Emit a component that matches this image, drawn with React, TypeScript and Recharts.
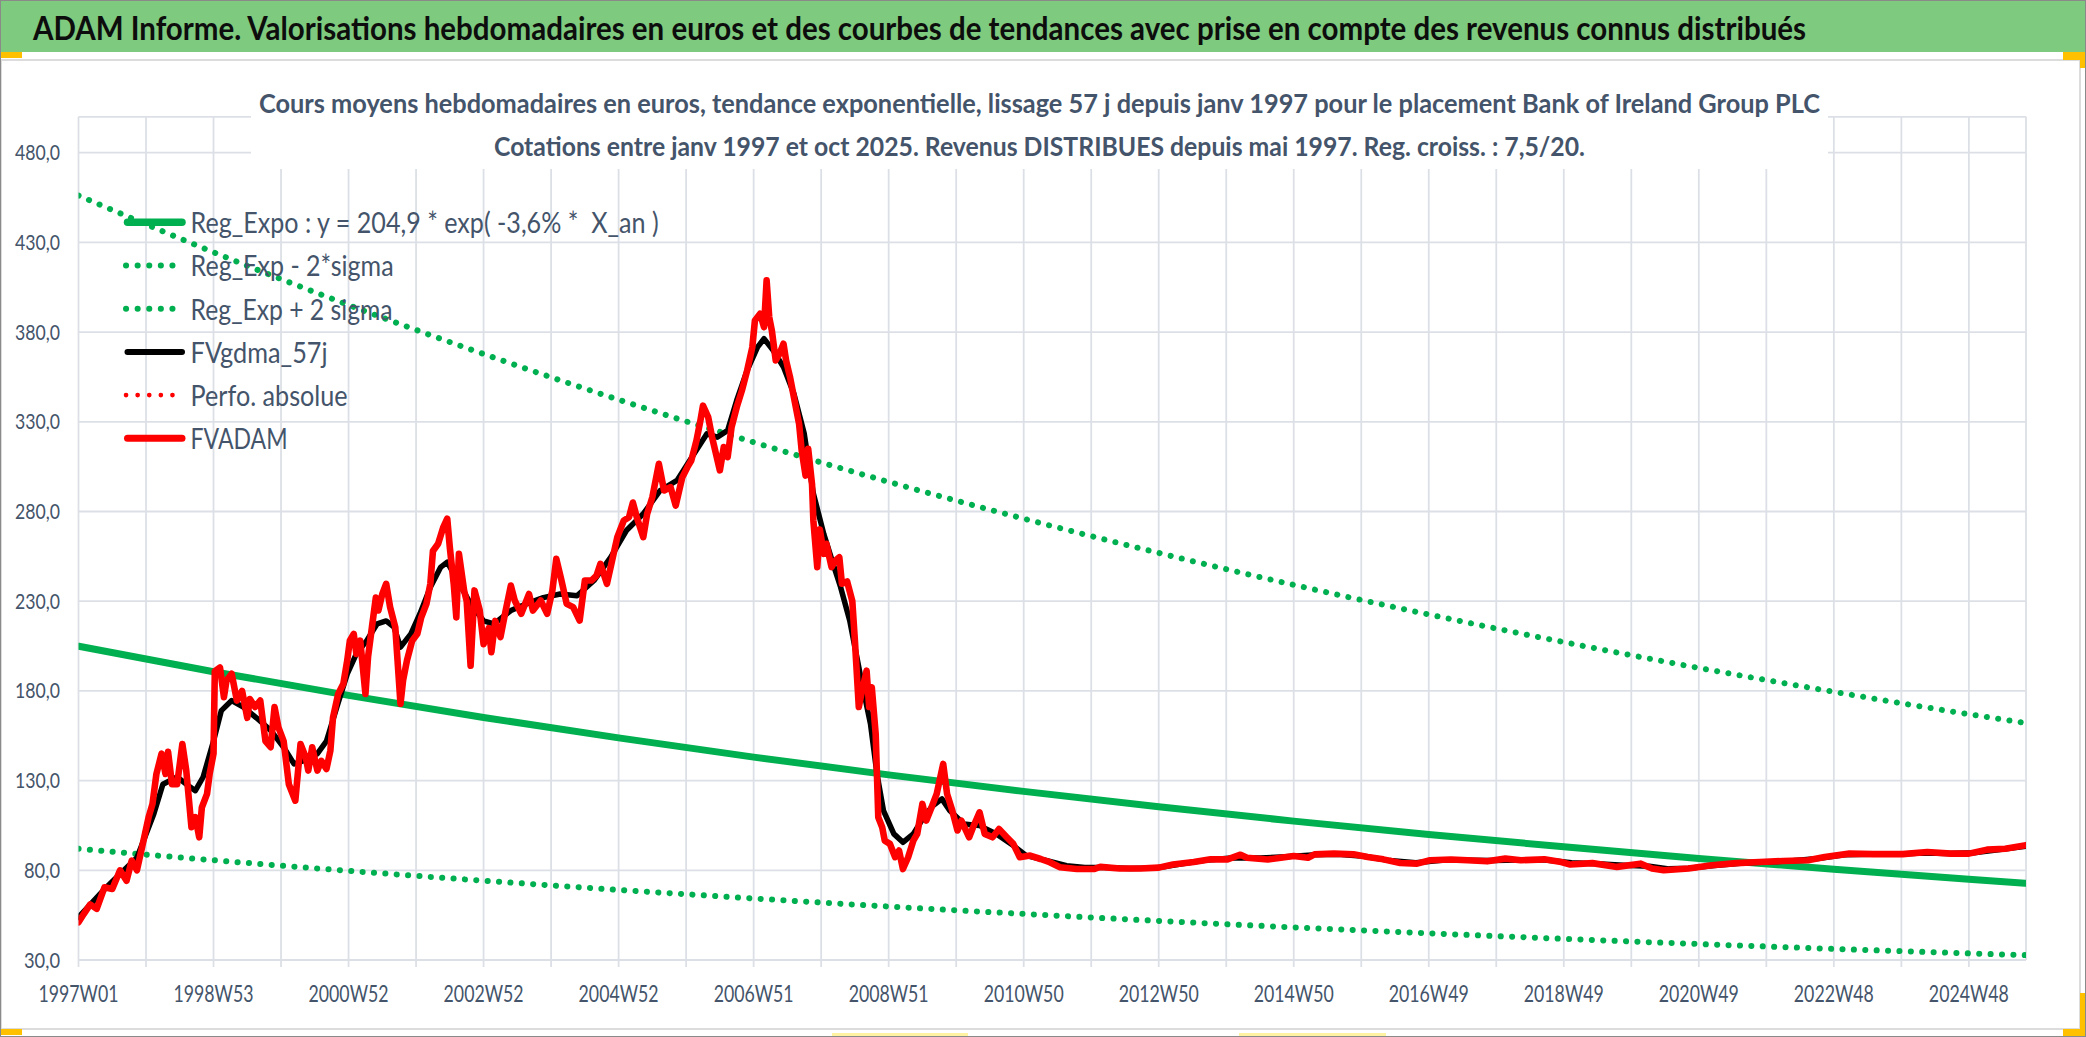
import React from 'react';
import { LineChart, Line, XAxis, YAxis, CartesianGrid } from 'recharts';

const W = 2086;
const H = 1037;
const PLOT_TOP = 116.8;
const PLOT_BOTTOM = 960;
const FONT = "Lato, 'Liberation Sans', Arial, sans-serif";
const SLATE = '#44546A';
const GRID = '#DCE0E6';
const GREEN = '#00B050';
const RED = '#FF0000';

// ---- categories / ticks ----
const X_LABELS = ['1997W01', '1998W53', '2000W52', '2002W52', '2004W52', '2006W51', '2008W51', '2010W50', '2012W50', '2014W50', '2016W49', '2018W49', '2020W49', '2022W48', '2024W48'];
const X_GRID_WEEKS = [0, 52, 104, 156, 208, 260, 312, 364, 416, 468, 520, 572, 624, 676, 728, 780, 832, 884, 936, 988, 1040, 1092, 1144, 1196, 1248, 1300, 1352, 1404, 1456];
const Y_TICKS = [30, 80, 130, 180, 230, 280, 330, 380, 430, 480];
const Y_LABELS = ['30,0', '80,0', '130,0', '180,0', '230,0', '280,0', '330,0', '380,0', '430,0', '480,0'];

// ---- regression series (read at every 104 weeks) ----
const REG_WEEKS = [0, 104, 208, 312, 416, 520, 624, 728, 832, 936, 1040, 1144, 1248, 1352, 1456, 1500];
const REG_EXPO = [204.9, 190.7, 177.5, 165.2, 153.8, 143.1, 133.2, 124.0, 115.4, 107.4, 100.0, 93.1, 86.6, 80.6, 75.0, 72.8];
const REG_LOW = [92.0, 85.6, 79.7, 74.2, 69.1, 64.3, 59.8, 55.7, 51.8, 48.2, 44.9, 41.8, 38.9, 36.2, 33.7, 32.7];
const REG_HIGH = [456.1, 424.5, 395.1, 367.8, 342.3, 318.6, 296.5, 276.0, 256.9, 239.1, 222.6, 207.2, 192.8, 179.5, 167.0, 162.1];

// ---- FVADAM weekly values [week index, value] ----
const FVADAM: [number, number][] = [[0,51],[4,55.6],[9,61],[14,58.5],[20,70.5],[26,69.6],[32,80],[37,74.2],[41,85.4],[45,80],[49,93],[54,109.6],[57,117],[60,133.7],[64,145],[67,133.7],[69,146],[72,128],[76,128],[80,150.4],[83,135.6],[87,104],[90,109.6],[93,98.4],[95,115],[99,122.6],[101,133.7],[104,145],[105,191],[109,193],[112,176.5],[114,185.8],[118,189.5],[122,174.6],[126,180],[130,165],[132,175.5],[136,171],[140,174.6],[144,152],[148,148.6],[151,171],[154,159.7],[158,152],[162,128],[167,118.8],[171,150.4],[175,143],[177,135.6],[180,148.6],[184,135.6],[187,141],[191,136.5],[194,146.7],[196,165],[200,178.3],[204,184],[207,197],[209,208],[212,211.8],[214,200.6],[217,208],[221,178.3],[223,198.8],[226,215.5],[229,232],[231,224.8],[234,234],[237,239.7],[240,226.7],[244,215.5],[248,172.8],[250,185.8],[253,197],[257,208],[261,211.8],[264,221],[268,228.5],[271,239.7],[273,258],[277,262],[281,271.3],[284,276],[286,260],[289,239.7],[291,221],[293,256.4],[297,236],[299,230],[302,194],[305,236],[309,225],[312,206],[316,215],[318,201.6],[321,219],[325,210],[329,224.8],[333,238.7],[336,230.4],[341,223],[347,234],[350,224.8],[356,230.4],[361,223],[365,236],[368,253.6],[372,241.5],[376,228.5],[381,226.7],[386,219.2],[390,241.5],[395,241.5],[399,244.3],[402,250.8],[407,239.7],[411,252.7],[415,265.7],[420,275],[424,276.8],[427,285],[430,276.8],[435,265.7],[438,278.7],[442,288],[447,306.6],[451,291.7],[456,293.6],[460,283.3],[465,299],[469,304.7],[472,308.4],[476,319.6],[479,330.7],[481,339],[485,332.6],[488,321.4],[494,302.9],[497,315.9],[500,310.3],[503,327],[507,338.2],[511,347.5],[515,358.6],[519,371.6],[521,386.5],[525,390.2],[528,382.8],[530,408.8],[532,388.4],[534,381],[537,364.2],[540,368],[543,373.5],[545,364.2],[548,355],[551,343.8],[555,328.9],[557,314],[560,300],[562,315],[565,295],[566,275],[569,249],[571,270],[574,256.4],[576,262],[580,249],[583,252.7],[586,254.5],[588,239.7],[592,241],[596,230],[598,208],[601,171],[603,178.3],[607,191.3],[609,171],[611,182],[614,156],[616,109.6],[619,104],[621,96.5],[625,94.7],[629,87.3],[632,91],[635,80.7],[639,87.3],[643,96.5],[646,100.3],[650,117],[653,107.7],[657,115],[661,122.6],[666,139.3],[669,122.6],[673,113.3],[677,102.2],[680,107.7],[686,98.4],[689,104],[694,112.3],[698,100.3],[704,98.4],[709,103],[715,98.4],[720,94.7],[725,87.3],[733,88.2],[741,86.3],[748,84.5],[756,81.7],[769,80.7],[782,80.7],[787,81.9],[802,81],[818,81],[832,81.5],[843,83.2],[859,84.6],[872,86.1],[885,86.1],[895,88.7],[900,87],[916,86],[926,87],[936,88],[947,87],[952,88.9],[967,89.3],[982,88.9],[993,87.4],[1005,86.1],[1018,84.1],[1031,83.7],[1041,85.6],[1057,86],[1070,85.6],[1085,85],[1099,86.5],[1111,85.6],[1129,86.1],[1142,84.6],[1149,83.2],[1166,84],[1185,81.9],[1203,83.7],[1212,81],[1221,80],[1240,81],[1258,82.8],[1277,84],[1295,84.6],[1313,85.2],[1332,85.6],[1345,87.4],[1364,89.3],[1382,89],[1405,89],[1424,90.2],[1442,89.3],[1456,89.3],[1470,91.5],[1484,92],[1500,94]];

// ---- FVgdma_57j smoothed values [week index, value] ----
const FVGDMA: [number, number][] = [[0,53.8],[19,68.7],[32,78],[45,87],[58,111.4],[65,128],[76,132],[83,128],[90,124.4],[96,132],[104,152],[110,169],[118,174.6],[127,171],[137,165],[148,158],[158,148.6],[166,139.3],[173,141],[184,145],[191,152],[199,171],[207,189.5],[214,200.6],[222,208],[230,217.4],[237,219],[243,215.5],[248,204.4],[256,211.8],[263,223],[271,237.8],[279,249],[284,251.7],[292,241.5],[302,228.5],[312,219],[320,217.4],[333,224.8],[345,228.5],[358,232],[371,234],[384,233],[397,241.5],[410,254.5],[422,269.4],[435,278.7],[448,291.7],[461,297.3],[474,312],[484,323.3],[492,321.4],[500,325.2],[507,342],[515,358.6],[523,371.6],[528,376.3],[535,369.8],[543,360.5],[551,345.6],[559,323.3],[566,290],[574,267.5],[582,249],[587,237.8],[594,219.2],[602,189.5],[610,161.6],[615,133.7],[620,113.3],[628,100.3],[635,95.6],[643,100.3],[651,109.6],[658,116],[665,119.8],[671,113.3],[682,105.8],[694,104.9],[707,100.3],[720,93.8],[730,88.2],[746,85.4],[761,82.6],[775,81.5],[790,81.5],[810,81],[830,81.3],[850,83.6],[870,85.8],[890,87],[910,86.8],[930,87.6],[950,88.6],[970,89],[990,87.8],[1010,85.4],[1030,84.2],[1050,85.6],[1070,85.6],[1090,85.5],[1110,85.8],[1130,85.8],[1150,84.2],[1170,83.7],[1190,82.8],[1210,82.2],[1225,80.8],[1240,81.2],[1260,82.6],[1280,83.9],[1300,84.6],[1320,85.3],[1340,86.6],[1360,88.6],[1380,89],[1400,89],[1420,89.6],[1440,89.4],[1460,89.8],[1480,91.6],[1500,93.4]];

type Row = { w: number; reg?: number; lo?: number; hi?: number; ma?: number; fv?: number };

function buildTable(): Row[] {
  const map = new Map<number, Row>();
  const get = (w: number) => {
    let r = map.get(w);
    if (!r) { r = { w }; map.set(w, r); }
    return r;
  };
  REG_WEEKS.forEach((w, i) => {
    const r = get(w);
    r.reg = REG_EXPO[i];
    r.lo = REG_LOW[i];
    r.hi = REG_HIGH[i];
  });
  FVGDMA.forEach(([w, v]) => { get(w).ma = v; });
  FVADAM.forEach(([w, v]) => { get(w).fv = v; });
  return Array.from(map.values()).sort((a, b) => a.w - b.w);
}

const DATA = buildTable();

const TITLE = 'ADAM Informe. Valorisations hebdomadaires en euros et des courbes de tendances avec prise en compte des revenus connus distribués';
const SUB1 = 'Cours moyens hebdomadaires en euros, tendance exponentielle, lissage 57 j depuis janv 1997 pour le placement Bank of Ireland Group PLC';
const SUB2 = 'Cotations entre janv 1997 et oct 2025. Revenus DISTRIBUES depuis mai 1997. Reg. croiss. : 7,5/20.';

const LEGEND = [
  { label: 'Reg_Expo : y = 204,9 * exp( -3,6% *  X_an )', color: GREEN, width: 7.5, dash: '', textW: 468 },
  { label: 'Reg_Exp - 2*sigma', color: GREEN, width: 6, dash: '0.1 11.5', textW: 203 },
  { label: 'Reg_Exp + 2 sigma', color: GREEN, width: 6, dash: '0.1 11.5', textW: 202 },
  { label: 'FVgdma_57j', color: '#000000', width: 6, dash: '', textW: 137 },
  { label: 'Perfo. absolue', color: RED, width: 4.6, dash: '0.1 11.5', textW: 157 },
  { label: 'FVADAM', color: RED, width: 7, dash: '', textW: 97 },
];

function XTick(props: any) {
  const { x, payload } = props;
  const w = payload.value;
  if (w % 104 !== 0) return <g />;
  const label = X_LABELS[w / 104];
  return (
    <text x={x} y={PLOT_BOTTOM + 41.5} textAnchor="middle" fontFamily={FONT} fontSize={23.5} fill={SLATE}
      textLength={80} lengthAdjust="spacingAndGlyphs">{label}</text>
  );
}

function YTick(props: any) {
  const { y, payload } = props;
  const i = Y_TICKS.indexOf(payload.value);
  const label = Y_LABELS[i] ?? '';
  return (
    <text x={60} y={y + 7.5} textAnchor="end" fontFamily={FONT} fontSize={21} fill={SLATE}
      textLength={label.length > 4 ? 45 : 36} lengthAdjust="spacingAndGlyphs">{label}</text>
  );
}

export default function App() {
  return (
    <div style={{ position: 'relative', width: W, height: H, background: '#FFFFFF', overflow: 'hidden' }}>
      <style>{'html,body{margin:0;padding:0;background:#fff;}'}</style>
      {/* background frame */}
      <svg width={W} height={H} style={{ position: 'absolute', left: 0, top: 0 }}>
        <rect x={0} y={0} width={W} height={52} fill="#7ECA7E" />
        <rect x={1} y={60} width={2079} height={969} fill="none" stroke="#DCDCDC" strokeWidth={2} />
        <rect x={0} y={52} width={22} height={6} fill="#FFC000" />
        <rect x={2063} y={52} width={23} height={8} fill="#FFC000" />
        <rect x={2080} y={52} width={6} height={16} fill="#FFC000" />
        <rect x={0} y={1029} width={22} height={6} fill="#FFC000" />
        <rect x={2080} y={993} width={6} height={44} fill="#FFC000" />
        <rect x={2063} y={1029} width={23} height={8} fill="#FFC000" />
        <rect x={832} y={1033} width={136} height={4} fill="#FFF2A0" />
        <rect x={1239} y={1033} width={147} height={4} fill="#FFF2A0" />
        <text x={33} y={40} fontFamily={FONT} fontWeight={700} fontSize={31.5} fill="#0D0D0D"
          textLength={1773} lengthAdjust="spacingAndGlyphs">{TITLE}</text>
      </svg>

      <div style={{ position: 'absolute', left: 0, top: 0 }}>
        <LineChart width={W} height={H} data={DATA} margin={{ top: PLOT_TOP, right: 60, bottom: 0, left: 0 }}>
          <CartesianGrid stroke={GRID} strokeWidth={1.8} />
          <XAxis type="number" dataKey="w" domain={[0, 1500]} ticks={X_GRID_WEEKS} interval={0} height={77}
            tickSize={7} tickMargin={0} allowDataOverflow
            axisLine={{ stroke: GRID, strokeWidth: 2 }} tickLine={{ stroke: GRID, strokeWidth: 1.8 }}
            tick={(p: any) => <XTick {...p} />} />
          <YAxis type="number" domain={[30, 500]} ticks={Y_TICKS} interval={0} width={78.5} allowDataOverflow
            axisLine={false} tickLine={false} tick={(p: any) => <YTick {...p} />} />
          <Line dataKey="reg" type="monotone" stroke={GREEN} strokeWidth={7} dot={false} activeDot={false}
            connectNulls isAnimationActive={false} strokeLinecap="round" />
          <Line dataKey="lo" type="monotone" stroke={GREEN} strokeWidth={6} strokeDasharray="0.1 11.3" dot={false}
            activeDot={false} connectNulls isAnimationActive={false} strokeLinecap="round" />
          <Line dataKey="hi" type="monotone" stroke={GREEN} strokeWidth={6} strokeDasharray="0.1 11.3" dot={false}
            activeDot={false} connectNulls isAnimationActive={false} strokeLinecap="round" />
          <Line dataKey="ma" type="linear" stroke="#000000" strokeWidth={5.5} dot={false} activeDot={false}
            connectNulls isAnimationActive={false} strokeLinecap="round" strokeLinejoin="round" />
          <Line dataKey="fv" type="linear" stroke={RED} strokeWidth={6.6} dot={false} activeDot={false}
            connectNulls isAnimationActive={false} strokeLinecap="round" strokeLinejoin="round" />
        </LineChart>
      </div>

      {/* overlay: chart title box and legend */}
      <svg width={W} height={H} style={{ position: 'absolute', left: 0, top: 0, pointerEvents: 'none' }}>
        <rect x={251} y={62} width={1577} height={107} fill="#FFFFFF" />
        <text x={259} y={113.3} fontFamily={FONT} fontWeight={700} fontSize={27.5} fill={SLATE}
          textLength={1561} lengthAdjust="spacingAndGlyphs">{SUB1}</text>
        <text x={494} y={156} fontFamily={FONT} fontWeight={700} fontSize={27.5} fill={SLATE}
          textLength={1091} lengthAdjust="spacingAndGlyphs">{SUB2}</text>
        {LEGEND.map((e, i) => {
          const cy = 222.3 + i * 43.2;
          return (
            <g key={e.label}>
              {e.dash ? (
                <line x1={126} y1={cy} x2={184} y2={cy} stroke={e.color} strokeWidth={e.width}
                  strokeDasharray={e.dash} strokeLinecap="round" />
              ) : (
                <line x1={127.5} y1={cy} x2={182} y2={cy} stroke={e.color} strokeWidth={e.width} strokeLinecap="round" />
              )}
              <text x={190.6} y={cy + 10.8} fontFamily={FONT} fontSize={29.5} fill={SLATE}
                textLength={e.textW} lengthAdjust="spacingAndGlyphs" style={{ whiteSpace: 'pre' }}>{e.label}</text>
            </g>
          );
        })}
        <rect x={0.5} y={0.5} width={W - 1} height={H - 1} fill="none" stroke="#8A8A8A" strokeWidth={1} />
      </svg>
    </div>
  );
}
